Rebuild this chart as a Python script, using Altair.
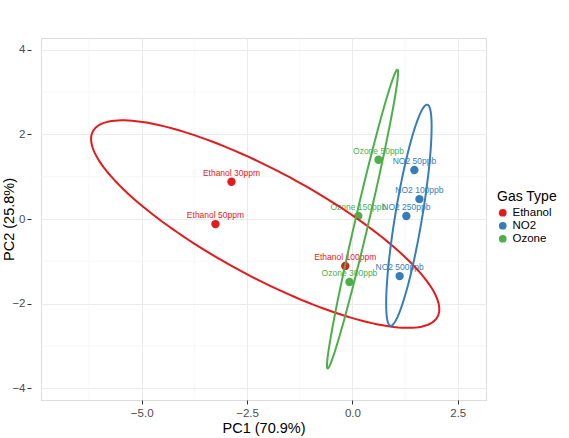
import altair as alt
import numpy as np
import pandas as pd

# ---- data ----
labels = ["Ethanol 30ppm", "Ethanol 50ppm", "Ethanol 100ppm",
          "NO2 50ppb", "NO2 100ppb", "NO2 250ppb", "NO2 500ppb",
          "Ozone 50ppb", "Ozone 150ppb", "Ozone 300ppb"]
groups = ["Ethanol", "Ethanol", "Ethanol",
          "NO2", "NO2", "NO2", "NO2",
          "Ozone", "Ozone", "Ozone"]
pc1 = [-2.87, -3.25, -0.17, 1.47, 1.59, 1.28, 1.12, 0.62, 0.14, -0.07]
pc2 = [0.88, -0.12, -1.11, 1.16, 0.47, 0.07, -1.35, 1.40, 0.07, -1.49]

# confidence ellipses (center, semi-axes, rotation in degrees)
ell_group = ["Ethanol", "NO2", "Ozone"]
ell_cx = [-2.07, 1.34, 0.24]
ell_cy = [-0.12, 0.09, 0.00]
ell_a = [4.64, 2.65, 3.63]
ell_b = [1.25, 0.32, 0.16]
ell_angle = [-28.2, 80.5, 76.8]

gas_types = ["Ethanol", "NO2", "Ozone"]
gas_colors = ["#E41A1C", "#377EB8", "#4DAF4A"]

x_ticks = [-5.0, -2.5, 0.0, 2.5]
y_ticks = [-4, -2, 0, 2, 4]
x_minor = [-6.25, -3.75, -1.25, 1.25]
y_minor = [-3, -1, 1, 3]
x_domain = [-7.39, 3.17]
y_domain = [-4.28, 4.28]

# ---- build tables ----
pts = pd.DataFrame({"label": labels, "group": groups, "PC1": pc1, "PC2": pc2})

rows = []
t = np.linspace(0, 2 * np.pi, 181)
for g, cx, cy, a, b, ang in zip(ell_group, ell_cx, ell_cy, ell_a, ell_b, ell_angle):
    th = np.deg2rad(ang)
    ex = cx + a * np.cos(t) * np.cos(th) - b * np.sin(t) * np.sin(th)
    ey = cy + a * np.cos(t) * np.sin(th) + b * np.sin(t) * np.cos(th)
    for i, (xx, yy) in enumerate(zip(ex, ey)):
        rows.append({"group": g, "PC1": xx, "PC2": yy, "ord": i})
ell = pd.DataFrame(rows)

FONT = "Liberation Sans"

xs = alt.Scale(domain=x_domain, nice=False, zero=False)
ys = alt.Scale(domain=y_domain, nice=False, zero=False)
cs = alt.Scale(domain=gas_types, range=gas_colors)

x_axis = alt.Axis(values=x_ticks, format=".1f", grid=True, gridColor="#EBEBEB",
                  gridWidth=1, domain=False, tickSize=4, tickColor="#333333",
                  labelColor="#4D4D4D", labelFontSize=11.5, labelPadding=3,
                  labelFont=FONT, title="PC1 (70.9%)", titleFont=FONT,
                  titleFontSize=14.5, titleFontWeight="normal", titleColor="#000000",
                  titlePadding=3)
y_axis = alt.Axis(values=y_ticks, format="d", grid=True, gridColor="#EBEBEB",
                  gridWidth=1, domain=False, tickSize=4, tickColor="#333333",
                  labelColor="#4D4D4D", labelFontSize=11.5, labelPadding=2,
                  labelFont=FONT, title="PC2 (25.8%)", titleFont=FONT,
                  titleFontSize=14.5, titleFontWeight="normal", titleColor="#000000",
                  titleX=-22, titleY=181, titleBaseline="middle", titleAngle=270,
                  offset=10)

# main axes drawn with an invisible base layer
base = alt.Chart(pts).mark_point(opacity=0).encode(
    x=alt.X("PC1:Q", scale=xs, axis=x_axis),
    y=alt.Y("PC2:Q", scale=ys, axis=y_axis),
)

minor_x = alt.Chart(pd.DataFrame({"PC1": x_minor})).mark_rule(
    color="#F2F2F2", strokeWidth=0.6).encode(x=alt.X("PC1:Q", scale=xs))
minor_y = alt.Chart(pd.DataFrame({"PC2": y_minor})).mark_rule(
    color="#F2F2F2", strokeWidth=0.6).encode(y=alt.Y("PC2:Q", scale=ys))

points = alt.Chart(pts).mark_circle(size=70, opacity=1).encode(
    x=alt.X("PC1:Q", scale=xs),
    y=alt.Y("PC2:Q", scale=ys),
    color=alt.Color("group:N", scale=cs, legend=alt.Legend(
        title="Gas Type", orient="none", legendX=456, legendY=152,
        titleFont=FONT, titleFontSize=14, titleFontWeight="normal",
        titleColor="#000000", titlePadding=3,
        labelFont=FONT, labelFontSize=11.5, labelColor="#000000",
        symbolType="circle", symbolSize=60, symbolStrokeWidth=0,
        rowPadding=0, labelOffset=4)),
)

texts = alt.Chart(pts).mark_text(font=FONT, fontSize=8.5, dy=-9, baseline="middle",
                                 align="center").encode(
    x=alt.X("PC1:Q", scale=xs),
    y=alt.Y("PC2:Q", scale=ys),
    text="label:N",
    color=alt.Color("group:N", scale=cs),
)

ellipses = alt.Chart(ell).mark_line(strokeWidth=2, interpolate="linear").encode(
    x=alt.X("PC1:Q", scale=xs),
    y=alt.Y("PC2:Q", scale=ys),
    color=alt.Color("group:N", scale=cs),
    detail="group:N",
    order="ord:Q",
)

chart = alt.layer(base, minor_x, minor_y, points, texts, ellipses).properties(
    width=445, height=362,
    autosize=alt.AutoSizeParams(type="none"),
    padding={"left": 41, "top": 38, "right": 83, "bottom": 38},
).configure_view(stroke="#333333", strokeWidth=1).configure(background="white")

chart.save("out.html", embed_options={"renderer": "svg", "actions": False})
